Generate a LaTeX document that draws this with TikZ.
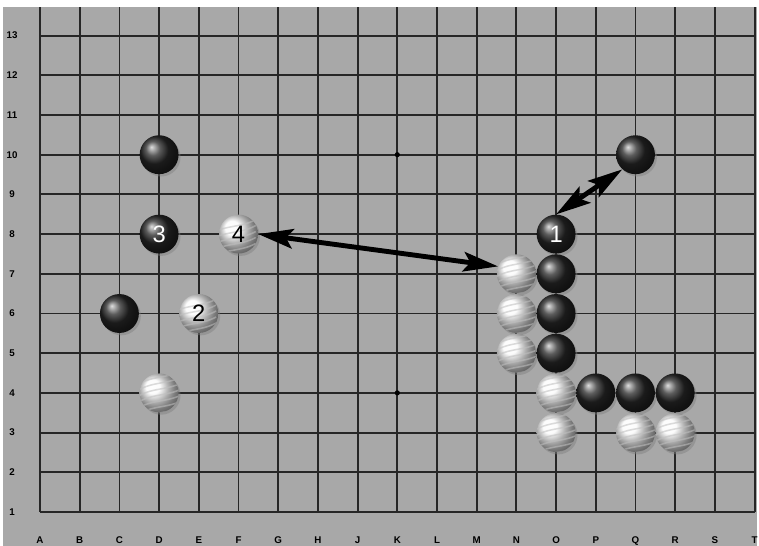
\documentclass[tikz,border=0pt]{standalone}
\usepackage{fontspec}
\setsansfont{Liberation Sans}
\usetikzlibrary{arrows.meta,shadows}
\definecolor{boardgray}{gray}{0.66}

\begin{document}
\begin{tikzpicture}[
    grid line/.style={line width=1.3pt, black!85},
    coord label/.style={font=\sffamily\bfseries\fontsize{7}{7}\selectfont, inner sep=0pt},
    stone/.style={circle, minimum size=0.98cm, inner sep=0pt,
        font=\sffamily\fontsize{17}{17}\selectfont,
        drop shadow={shadow xshift=.05, shadow yshift=-.06, opacity=.45}},
    bstone/.style={stone, ball color=black!85, text=white},
    wstone/.style={stone, ball color=gray!4, text=black,
        path picture={
            \begin{scope}[shift={(path picture bounding box.center)}]
            \foreach \k in {-0.55,-0.4,...,0.5}
                \draw[gray!50, line width=1.1pt, opacity=.55]
                    (-0.6,\k-0.18) .. controls (-0.2,\k+0.1) and (0.2,\k) .. (0.6,\k+0.22);
            \end{scope}
        }},
    dblarrow/.style={{Stealth[length=25pt, width=14pt, inset=5pt]}-{Stealth[length=25pt, width=14pt, inset=5pt]}, line width=3.5pt, black}
]
    \useasboundingbox (-1.008,-0.856) rectangle (18.111,12.897);

    % board
    \fill[boardgray] (-0.93,-0.856) rectangle (18.06,12.72);
    \foreach \i in {0,...,18}
        \draw[grid line] (\i,0) -- (\i,12.72);
    \foreach \j in {0,...,12}
        \draw[grid line] (0,\j) -- (18,\j);

    % hoshi
    \fill (9,9) circle (0.065);
    \fill (9,3) circle (0.065);

    % coordinates
    \foreach \r [count=\j from 0] in {1,...,13}
        \node[coord label] (row\r) at (-0.705,\j) {\r};
    \foreach \c [count=\i from 0] in {A,B,C,D,E,F,G,H,J,K,L,M,N,O,P,Q,R,S,T}
        \node[coord label] (col\c) at (\i,-0.72) {\c};

    % stones, top to bottom
    \node[bstone] (D10) at (3,9) {};
    \node[bstone] (Q10) at (15,9) {};
    \node[bstone] (D8) at (3,7) {3};
    \node[wstone] (F8) at (5,7) {4};
    \node[bstone] (O8) at (13,7) {1};
    \node[wstone] (N7) at (12,6) {};
    \node[bstone] (O7) at (13,6) {};
    \node[bstone] (C6) at (2,5) {};
    \node[wstone] (E6) at (4,5) {2};
    \node[wstone] (N6) at (12,5) {};
    \node[bstone] (O6) at (13,5) {};
    \node[wstone] (N5) at (12,4) {};
    \node[bstone] (O5) at (13,4) {};
    \node[wstone] (D4) at (3,3) {};
    \node[wstone] (O4) at (13,3) {};
    \node[bstone] (P4) at (14,3) {};
    \node[bstone] (Q4) at (15,3) {};
    \node[bstone] (R4) at (16,3) {};
    \node[wstone] (O3) at (13,2) {};
    \node[wstone] (Q3) at (15,2) {};
    \node[wstone] (R3) at (16,2) {};

    % arrows
    \draw[dblarrow] (F8.east) -- (N7.158);
    \draw[dblarrow] (O8.north) -- (Q10.228);
\end{tikzpicture}
\end{document}
